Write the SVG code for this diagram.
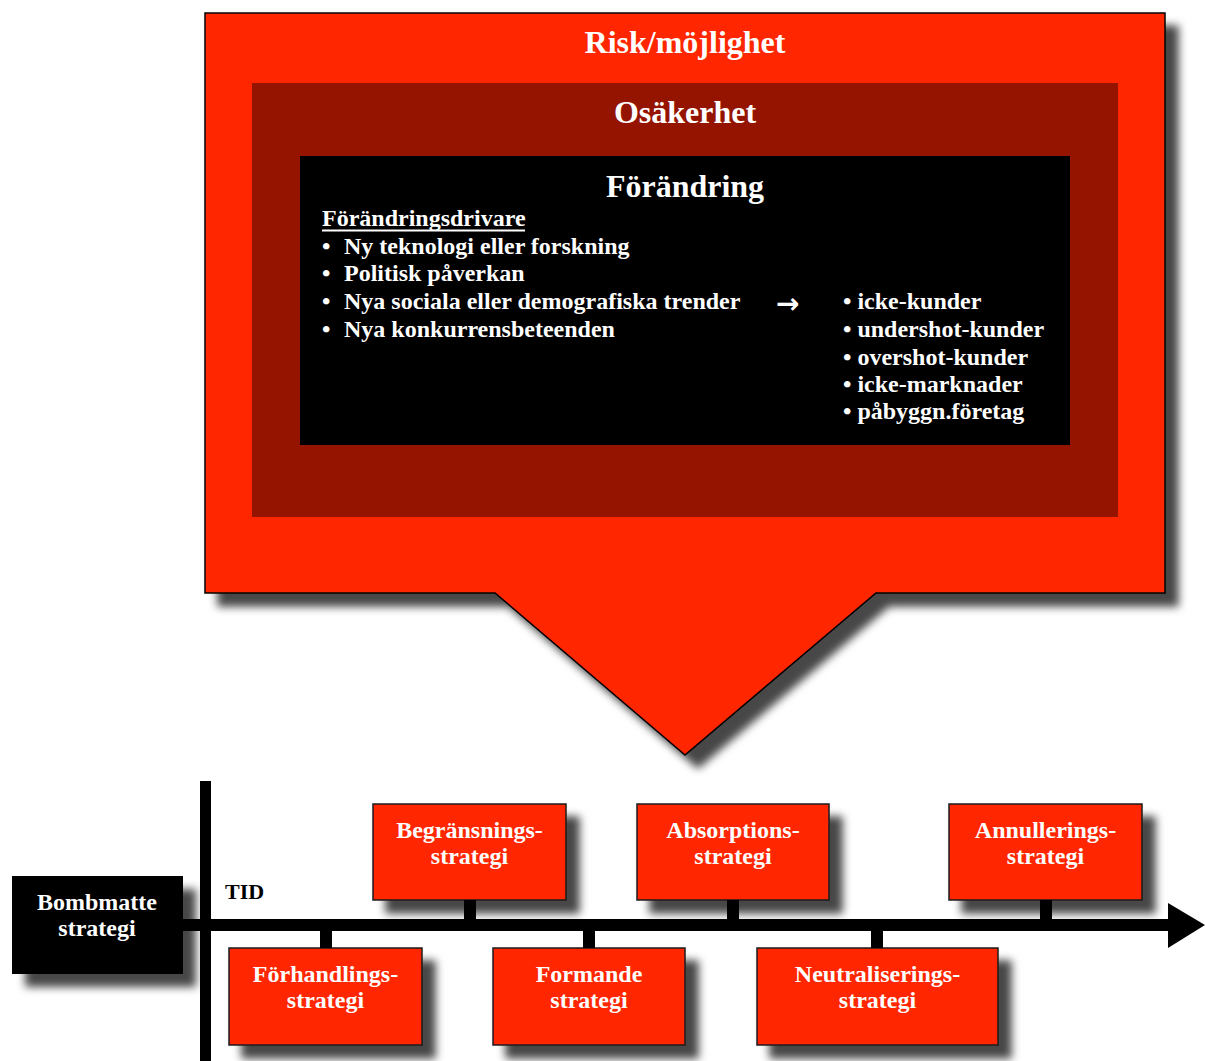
<svg xmlns="http://www.w3.org/2000/svg" width="1205" height="1061" viewBox="0 0 1205 1061">
<defs>
<filter id="sh" x="-10%" y="-10%" width="130%" height="140%">
<feDropShadow dx="13" dy="13" stdDeviation="4" flood-color="#000" flood-opacity="0.72"/>
</filter>
<style>
text{font-family:"Liberation Serif","Times New Roman",serif;font-weight:bold;}
.t{font-size:32px;text-anchor:middle;fill:#fff;}
.b{font-size:24px;fill:#fff;}
.n{font-size:24px;fill:#fff;text-anchor:middle;}
.red{fill:#ff2600;stroke:#1a1a1a;stroke-width:1.5;filter:url(#sh);}
.blk{fill:#000;}
</style>
</defs>
<rect width="1205" height="1061" fill="#fff"/>

<g id="callout">
<path d="M205,13 H1165 V593 H876 L685,755 L495,593 H205 Z" fill="#ff2600" stroke="#000" stroke-width="1.5" filter="url(#sh)"/>
<text class="t" x="685" y="53">Risk/möjlighet</text>
</g>
<g id="osakerhet">
<rect x="252" y="83" width="866" height="434" fill="#941400"/>
<text class="t" x="685" y="123">Osäkerhet</text>
</g>
<g id="forandring">
<rect x="300" y="156" width="770" height="289" fill="#000"/>
<text class="t" x="685" y="197">Förändring</text>
<text class="b" x="322" y="226">Förändringsdrivare</text>
<line x1="322" y1="230.5" x2="525" y2="230.5" stroke="#fff" stroke-width="2"/>
<text class="b" y="254"><tspan x="322">•</tspan><tspan x="344">Ny teknologi eller forskning</tspan></text>
<text class="b" y="281"><tspan x="322">•</tspan><tspan x="344">Politisk påverkan</tspan></text>
<text class="b" y="309"><tspan x="322">•</tspan><tspan x="344">Nya sociala eller demografiska trender</tspan></text>
<text class="b" y="337"><tspan x="322">•</tspan><tspan x="344">Nya konkurrensbeteenden</tspan></text>
<text x="776" y="313" style="font-family:'DejaVu Sans',sans-serif;font-weight:bold;font-size:28px;fill:#fff">→</text>
<text class="b" x="843" y="309">• icke-kunder</text>
<text class="b" x="843" y="337">• undershot-kunder</text>
<text class="b" x="843" y="365">• overshot-kunder</text>
<text class="b" x="843" y="392">• icke-marknader</text>
<text class="b" x="843" y="419">• påbyggn.företag</text>
</g>

<g id="bombmatte">
<rect x="12" y="876" width="171" height="98" fill="#000" filter="url(#sh)"/>
<text class="n" x="97" y="910">Bombmatte</text>
<text class="n" x="97" y="936">strategi</text>
</g>
<g id="begransning">
<rect class="red" x="373" y="804" width="193" height="96"/>
<text class="n" x="469.5" y="838">Begränsnings-</text>
<text class="n" x="469.5" y="864">strategi</text>
</g>
<g id="absorption">
<rect class="red" x="637" y="804" width="192" height="96"/>
<text class="n" x="733" y="838">Absorptions-</text>
<text class="n" x="733" y="864">strategi</text>
</g>
<g id="annullering">
<rect class="red" x="949" y="804" width="193" height="96"/>
<text class="n" x="1045.5" y="838">Annullerings-</text>
<text class="n" x="1045.5" y="864">strategi</text>
</g>
<g id="forhandling">
<rect class="red" x="229" y="948" width="193" height="97"/>
<text class="n" x="325.5" y="982">Förhandlings-</text>
<text class="n" x="325.5" y="1008">strategi</text>
</g>
<g id="formande">
<rect class="red" x="493" y="948" width="192" height="97"/>
<text class="n" x="589" y="982">Formande</text>
<text class="n" x="589" y="1008">strategi</text>
</g>
<g id="neutralisering">
<rect class="red" x="757" y="948" width="241" height="97"/>
<text class="n" x="877.5" y="982">Neutraliserings-</text>
<text class="n" x="877.5" y="1008">strategi</text>
</g>

<g id="connectors">
<rect class="blk" x="200" y="781" width="11" height="280"/>
<rect class="blk" x="183" y="919" width="987" height="12"/>
<polygon class="blk" points="1168,903 1205,925 1168,948"/>
<rect class="blk" x="464" y="900" width="12" height="19"/>
<rect class="blk" x="727" y="900" width="12" height="19"/>
<rect class="blk" x="1040" y="900" width="12" height="19"/>
<rect class="blk" x="320" y="931" width="12" height="17"/>
<rect class="blk" x="583" y="931" width="12" height="17"/>
<rect class="blk" x="871" y="931" width="12" height="17"/>
<text x="225" y="899" style="font-size:22px;fill:#000">TID</text>
</g>
</svg>
